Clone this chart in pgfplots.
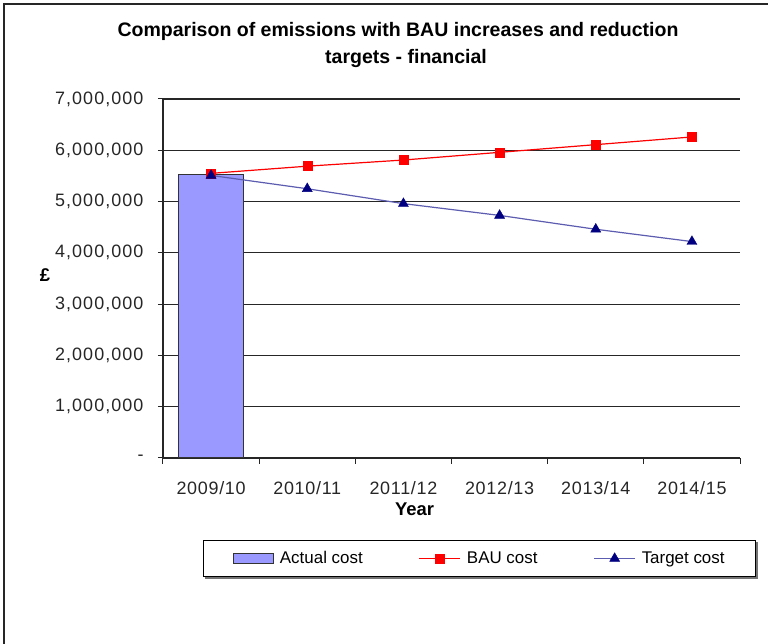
\documentclass[border=0pt]{standalone}
\usepackage{fontspec}
\setmainfont{Liberation Sans}
\usepackage{pgfplots}
\pgfplotsset{compat=1.18}

\definecolor{barfill}{HTML}{9999FF}
\definecolor{baured}{HTML}{FF0000}
\definecolor{tgtline}{HTML}{5C5CB0}
\definecolor{tgtmark}{HTML}{000080}

\pgfdeclarelayer{background}
\pgfsetlayers{background,main}

% legend symbols: a flat box for the bars, a short line with a centred mark
\pgfplotsset{
  barlegend/.style={legend image code/.code={\draw[##1] (0bp,-5bp) rectangle (40bp,5bp);}},
  linelegend/.style={legend image code/.code={\draw[##1, mark repeat=2, mark phase=2] plot coordinates {(0bp,0bp) (20.5bp,0bp) (41bp,0bp)};}},
}

% Actual, business-as-usual and target costs (GBP) by financial year
\pgfplotstableread{
idx cost
0   5520000
}\actualcost
\pgfplotstableread{
idx cost
0   5550000
1   5690000
2   5810000
3   5960000
4   6110000
5   6260000
}\baucost
\pgfplotstableread{
idx cost
0   5510000
1   5250000
2   4960000
3   4730000
4   4460000
5   4220000
}\targetcost

\begin{document}
\begin{tikzpicture}[x=1bp,y=1bp]
\path[use as bounding box] (-163,-186) rectangle (605,458);
% chart frame
\draw[line width=1.6bp, black!85] (-159,-200) -- (-159,454) -- (620,454);

% title
\node[font=\bfseries\fontsize{19.6}{23}\selectfont, anchor=base] at (235,421)
  {Comparison of emissions with BAU increases and reduction};
\node[font=\bfseries\fontsize{19.6}{23}\selectfont, anchor=base] at (243,394)
  {targets - financial};

\begin{axis}[
  at={(0,0)}, anchor=south west,
  scale only axis, width=577bp, height=359bp,
  xmin=-0.5, xmax=5.5, ymin=0, ymax=7000000,
  scaled y ticks=false,
  axis x line*=bottom, axis y line*=left,
  axis line style={line width=1.2bp, black!85},
  ytick={0,1000000,2000000,3000000,4000000,5000000,6000000,7000000},
  yticklabels={-,{1,000,000},{2,000,000},{3,000,000},{4,000,000},{5,000,000},{6,000,000},{7,000,000}},
  xtick={0,1,2,3,4,5},
  xticklabels={2009/10,2010/11,2011/12,2012/13,2013/14,2014/15},
  minor xtick={-0.5,0.5,1.5,2.5,3.5,4.5,5.5},
  major x tick style={draw=none},
  tick align=outside,
  major tick length=5bp, minor tick length=6bp,
  tick style={black!85, line width=1bp},
  ymajorgrids,
  grid style={black!85, line width=1.2bp},
  ticklabel style={font=\fontsize{18}{20}\selectfont, text=black!85},
  yticklabel style={font=\fontsize{18}{20}\selectfont\addfontfeature{LetterSpace=6}, xshift=-11bp},
  xticklabel style={font=\fontsize{18}{20}\selectfont\addfontfeature{LetterSpace=4}, yshift=-15bp},
  xlabel={Year},
  ylabel={£},
  label style={font=\bfseries\fontsize{18.5}{20}\selectfont},
  xlabel style={at={(axis description cs:0.436,-0.142)}, anchor=center},
  ylabel style={at={(axis description cs:-0.2045,0.51)}, anchor=center, rotate=-90},
  legend columns=3,
  legend style={
    name=costlegend,
    at={(axis description cs:0.549,-0.28)}, anchor=center,
    draw=black, line width=1bp, fill=white,
    font=\fontsize{17}{20}\selectfont,
    inner xsep=29bp, inner ysep=9bp,
    /tikz/every odd column/.append style={column sep=4bp},
    /tikz/every even column/.append style={column sep=54bp},
  },
  clip=false,
]
\addplot[ybar, bar width=0.67, fill=barfill, draw=black!80, line width=1bp, barlegend]
  table[x=idx, y=cost] {\actualcost};
\addlegendentry{Actual cost}

\addplot[color=baured, line width=1.2bp, mark=square*, mark size=4.5bp,
  mark options={fill=baured, draw=baured, line width=0.4bp}, linelegend]
  table[x=idx, y=cost] {\baucost};
\addlegendentry{BAU cost}

\addplot[color=tgtline, line width=1.2bp, mark=triangle*, mark size=5.8bp,
  mark options={fill=tgtmark, draw=tgtmark, line width=0.4bp}, linelegend]
  table[x=idx, y=cost] {\targetcost};
\addlegendentry{Target cost}
\end{axis}

% soft shadow under the legend box
\begin{pgfonlayer}{background}
\fill[black!55] ([shift={(2bp,-2bp)}]costlegend.south west) rectangle ([shift={(2bp,-2bp)}]costlegend.north east);
\end{pgfonlayer}
\end{tikzpicture}
\end{document}
